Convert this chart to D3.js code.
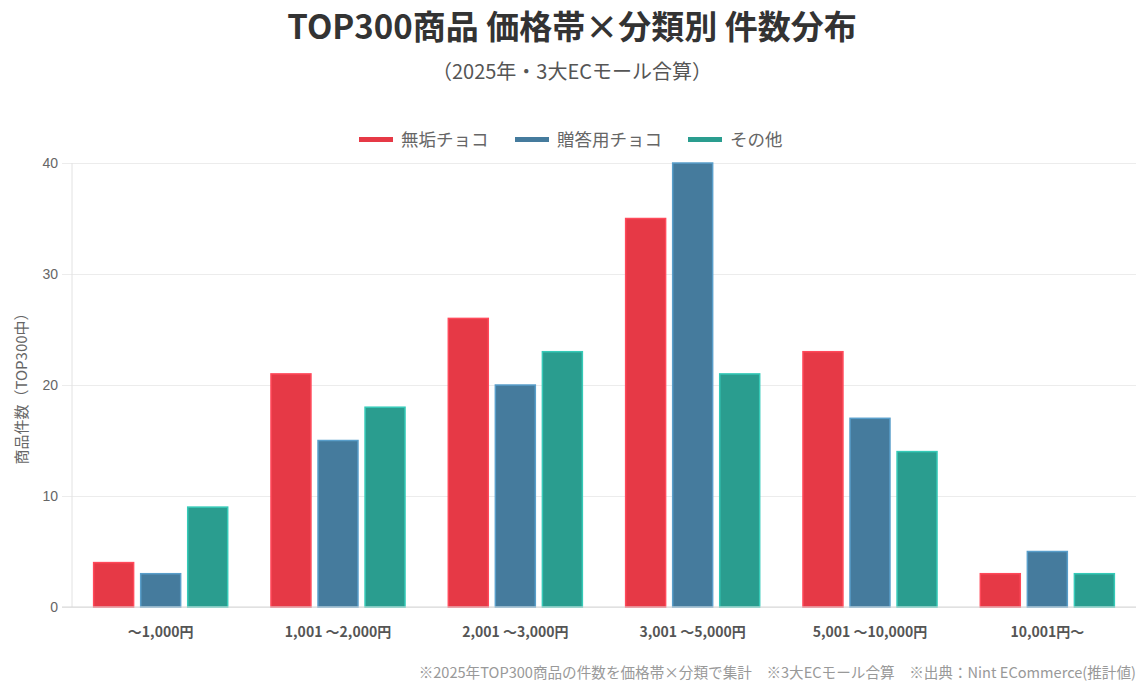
<!DOCTYPE html>
<html lang="ja">
<head>
<meta charset="utf-8">
<title>TOP300商品 価格帯×分類別 件数分布</title>
<script src="https://cdn.jsdelivr.net/npm/d3@7"></script>
<style>
  html, body { margin: 0; padding: 0; background: #fff; }
  body { font-family: "Noto Sans CJK JP", "Noto Sans", sans-serif; }
  .grid line { stroke: #ececec; }
  .grid path { display: none; }
</style>
</head>
<body>
<svg id="chart" width="1144" height="685"></svg>
<script>
// data
const categories = ["～1,000円", "1,001 ～2,000円", "2,001 ～3,000円", "3,001 ～5,000円", "5,001 ～10,000円", "10,001円～"];
const seriesNames = ["無垢チョコ", "贈答用チョコ", "その他"];
const seriesColors = ["#E63946", "#457B9D", "#2A9D8F"];
const mukuValues = [4, 21, 26, 35, 23, 3];
const giftValues = [3, 15, 20, 40, 17, 5];
const otherValues = [9, 18, 23, 21, 14, 3];
const yTicks = [0, 10, 20, 30, 40];

const seriesValues = [mukuValues, giftValues, otherValues];

const W = 1144, H = 685;
const margin = { left: 72, right: 8, top: 163, bottom: 78 };
const svg = d3.select("#chart");

// titles
svg.append("text")
  .attr("x", W / 2).attr("y", 39)
  .attr("text-anchor", "middle")
  .attr("font-size", 33).attr("font-weight", "bold")
  .attr("fill", "#333")
  .text("TOP300商品 価格帯×分類別 件数分布");

svg.append("text")
  .attr("x", W / 2).attr("y", 79)
  .attr("text-anchor", "middle")
  .attr("font-size", 20)
  .attr("fill", "#555")
  .text("（2025年・3大ECモール合算）");

// scales
let x0 = d3.scaleBand()
  .domain(categories)
  .range([margin.left, W - margin.right])
  .padding(0);

let x1 = d3.scaleBand()
  .domain(seriesNames)
  .range([0, x0.bandwidth()])
  .paddingInner(0.15)
  .paddingOuter(0.46);

let y = d3.scaleLinear()
  .domain([0, 40])
  .range([H - margin.bottom, margin.top]);

// grid
svg.append("g")
  .attr("class", "grid")
  .attr("transform", "translate(" + margin.left + ",0)")
  .call(d3.axisLeft(y).tickValues(yTicks).tickSize(-(W - margin.left - margin.right)).tickFormat(""))
  .call(g => g.selectAll(".tick line").attr("x1", -10));

// y axis labels
svg.append("g")
  .selectAll("text")
  .data(yTicks)
  .enter()
  .append("text")
  .attr("x", margin.left - 14)
  .attr("y", d => y(d) + 5)
  .attr("text-anchor", "end")
  .attr("font-family", "Liberation Sans, Arial, sans-serif")
  .attr("font-size", 14)
  .attr("fill", "#666")
  .text(d => d);

// left axis line
svg.append("line")
  .attr("x1", margin.left).attr("x2", margin.left)
  .attr("y1", y(40)).attr("y2", y(0))
  .attr("stroke", "#e2e2e2");

// y axis title
svg.append("text")
  .attr("transform", "translate(27," + ((y(0) + y(40)) / 2) + ") rotate(-90)")
  .attr("text-anchor", "middle")
  .attr("font-size", 15)
  .attr("fill", "#666")
  .text("商品件数（TOP300中）");

// bars
let groups = svg.append("g")
  .selectAll("g")
  .data(categories)
  .enter()
  .append("g")
  .attr("transform", d => "translate(" + x0(d) + ",0)");

groups.selectAll("rect")
  .data((d, i) => seriesNames.map((s, j) => ({ s: s, v: seriesValues[j][i], c: seriesColors[j] })))
  .enter()
  .append("rect")
  .attr("x", d => x1(d.s))
  .attr("y", d => y(d.v))
  .attr("width", x1.bandwidth())
  .attr("height", d => y(0) - y(d.v))
  .attr("fill", d => d.c)
  .attr("stroke", d => d3.color(d.c).brighter(0.7))
  .attr("stroke-width", 1.5);

// bottom axis line
svg.append("line")
  .attr("x1", margin.left - 10).attr("x2", W - margin.right)
  .attr("y1", y(0)).attr("y2", y(0))
  .attr("stroke", "#d6d6d6");

// x labels
svg.append("g")
  .selectAll("text")
  .data(categories)
  .enter()
  .append("text")
  .attr("x", d => x0(d) + x0.bandwidth() / 2)
  .attr("y", y(0) + 30)
  .attr("text-anchor", "middle")
  .attr("font-size", 14)
  .attr("font-weight", "bold")
  .attr("fill", "#555")
  .text(d => d);

// legend
const legendX = [359, 515, 688];
let legend = svg.append("g")
  .selectAll("g")
  .data(seriesNames)
  .enter()
  .append("g")
  .attr("transform", (d, i) => "translate(" + legendX[i] + ",140)");

legend.append("rect")
  .attr("x", 0).attr("y", -3)
  .attr("width", 34).attr("height", 5)
  .attr("fill", (d, i) => seriesColors[i]);

legend.append("text")
  .attr("x", 42).attr("y", 6)
  .attr("font-size", 17.5)
  .attr("fill", "#666")
  .text(d => d);

// footnote
svg.append("text")
  .attr("x", W - 8).attr("y", 678)
  .attr("text-anchor", "end")
  .attr("font-size", 14.6)
  .attr("fill", "#999")
  .text("※2025年TOP300商品の件数を価格帯×分類で集計　※3大ECモール合算　※出典：Nint ECommerce(推計値)");
</script>
</body>
</html>
